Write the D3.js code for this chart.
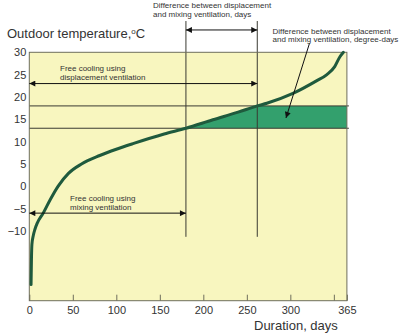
<!DOCTYPE html>
<html>
<head>
<meta charset="utf-8">
<script src="https://cdn.jsdelivr.net/npm/d3@7"></script>
<style>
  html, body { margin: 0; padding: 0; background: #fff; }
  svg { display: block; font-family: Arial, "Liberation Sans", sans-serif; }
</style>
</head>
<body>
<svg id="chart" width="400" height="334"></svg>
<script>
// ---- data ----
const days  = [2, 2.5, 3, 4.6, 6.5, 9, 16, 24, 33, 45, 60, 81, 100, 120, 155, 180, 211, 240, 262, 273, 303, 330, 342, 351, 357, 361];
const temps = [-22, -16, -13, -11, -9.6, -8.3, -6, -3, 0, 2.9, 5.0, 6.9, 8.3, 9.6, 11.7, 13, 14.9, 16.6, 18, 18.6, 20.8, 23.6, 25, 26.8, 29, 30];
const xTicks = [0, 50, 100, 150, 200, 250, 300, 350, 365];
const xTickLabels = ["0", "50", "100", "150", "200", "250", "300", "", "365"];
const yTicks = [-10, -5, 0, 5, 10, 15, 20, 25, 30];
const bandLow = 13, bandHigh = 18;          // temperature limits
const dayMixing = 180, dayDisplacement = 262; // free-cooling end days
const yLabel = "Outdoor temperature,";
const xLabel = "Duration, days";

// ---- chart ----
const svg = d3.select("#chart");
const x = d3.scaleLinear().domain([0, 365]).range([29.3, 346.9]);
const y = d3.scaleLinear().domain([-25.6, 30]).range([300.7, 52.3]);

const textCol = "#333";
const axisCol = "#6f6e5c";
const lineCol = "#3a3a32";

const defs = svg.append("defs");
defs.append("marker").attr("id", "ah")
  .attr("viewBox", "0 0 10 10").attr("refX", 10).attr("refY", 5)
  .attr("markerWidth", 7).attr("markerHeight", 6).attr("markerUnits", "userSpaceOnUse")
  .attr("orient", "auto-start-reverse")
  .append("path").attr("d", "M0,0 L10,5 L0,10 Z").attr("fill", "#111");

// background
svg.append("rect")
  .attr("x", x(0)).attr("y", y(30))
  .attr("width", x(365) - x(0)).attr("height", y(-25.6) - y(30))
  .attr("fill", "#f8f6bf");

const pts = days.map((d, i) => [d, temps[i]]);
const lineGen = d3.line().x(d => x(d[0])).y(d => y(d[1])).curve(d3.curveMonotoneX);

// green band (degree-days difference)
const sub = pts.filter(p => p[1] >= bandLow && p[1] <= bandHigh);
const bandPath = lineGen(sub) +
  `L${x(365)},${y(bandHigh)}L${x(365)},${y(bandLow)}Z`;
svg.append("path").attr("d", bandPath).attr("fill", "#33a06d");

// horizontal limit lines
[bandLow, bandHigh].forEach(t => {
  svg.append("line")
    .attr("x1", x(0)).attr("x2", x(365) + 2)
    .attr("y1", y(t)).attr("y2", y(t))
    .attr("stroke", lineCol).attr("stroke-width", 1);
});

// vertical lines
[dayMixing, dayDisplacement].forEach(d => {
  svg.append("line")
    .attr("x1", x(d)).attr("x2", x(d))
    .attr("y1", y(37)).attr("y2", y(-11.3))
    .attr("stroke", lineCol).attr("stroke-width", 1);
});

// axes
const xAxis = d3.axisBottom(x).tickValues(xTicks)
  .tickFormat((d, i) => xTickLabels[i]).tickSizeInner(-6).tickSizeOuter(0).tickPadding(6);
const gx = svg.append("g").attr("transform", `translate(0,${y(-25.6)})`).call(xAxis);
gx.select(".domain").remove();
gx.selectAll(".tick line").attr("stroke", axisCol);
gx.selectAll("text").attr("fill", textCol).style("font-size", "11px").style("font-family", "Arial, 'Liberation Sans', sans-serif");

const yAxis = d3.axisLeft(y).tickValues(yTicks).tickSize(0).tickPadding(3);
const gy = svg.append("g").attr("transform", `translate(${x(0)},0)`).call(yAxis);
gy.select(".domain").remove();
gy.selectAll("text").attr("fill", textCol).style("font-size", "11px").style("font-family", "Arial, 'Liberation Sans', sans-serif");

// frame
svg.append("rect")
  .attr("x", x(0)).attr("y", y(30))
  .attr("width", x(365) - x(0)).attr("height", y(-25.6) - y(30))
  .attr("fill", "none").attr("stroke", axisCol).attr("stroke-width", 1);

// temperature duration curve
svg.append("path").datum(pts).attr("d", lineGen)
  .attr("fill", "none").attr("stroke", "#1f5a3d").attr("stroke-width", 3)
  .attr("stroke-linecap", "round");

// arrows
function arrow(x1, y1, x2, y2, both) {
  const l = svg.append("line")
    .attr("x1", x1).attr("y1", y1).attr("x2", x2).attr("y2", y2)
    .attr("stroke", "#111").attr("stroke-width", 1)
    .attr("marker-end", "url(#ah)");
  if (both) l.attr("marker-start", "url(#ah)");
}
arrow(x(dayMixing), y(35), x(dayDisplacement), y(35), true);
arrow(x(0), y(23), x(dayDisplacement), y(23), true);
arrow(x(0), y(-6), x(dayMixing), y(-6), true);
arrow(x(322), y(32), x(295), y(15.3), false);

// annotation text
function label(lines, tx, ty, size, lh) {
  const t = svg.append("text").attr("x", tx).attr("y", ty)
    .attr("fill", textCol).style("font-size", size + "px");
  lines.forEach((s, i) => t.append("tspan").attr("x", tx).attr("dy", i === 0 ? 0 : lh).text(s));
}
label(["Difference between displacement", "and mixing ventilation, days"], 153, 8, 8, 9);
label(["Free cooling using", "displacement ventilation"], 60, 71, 8, 9);
label(["Free cooling using", "mixing ventilation"], 70, 200.5, 8, 9);
label(["Difference between displacement", "and mixing ventilation, degree-days"], 272.5, 33.5, 8, 8.5);

// axis titles
const yt = svg.append("text").attr("x", 7).attr("y", 37.5)
  .attr("fill", textCol).style("font-size", "13px");
yt.append("tspan").text(yLabel);
yt.append("tspan").attr("dy", -4).style("font-size", "8px").text("o");
yt.append("tspan").attr("dy", 4).text("C");

svg.append("text").attr("x", 254).attr("y", 330)
  .attr("fill", textCol).style("font-size", "13px").text(xLabel);
</script>
</body>
</html>
